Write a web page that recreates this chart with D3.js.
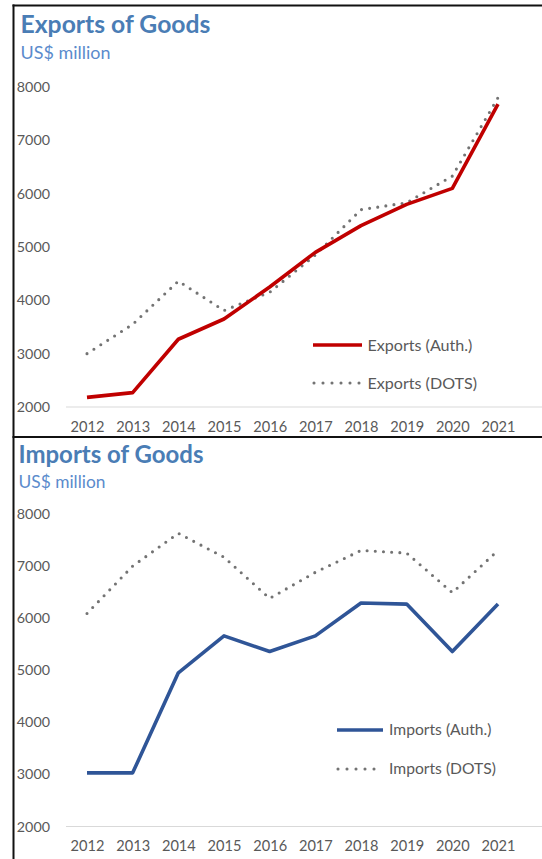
<!DOCTYPE html>
<html>
<head>
<meta charset="utf-8">
<script src="https://cdn.jsdelivr.net/npm/d3@7"></script>
<style>
  html, body { margin: 0; padding: 0; background: #fff; }
  svg { display: block; }
  text { font-family: Lato, "Open Sans", sans-serif; }
</style>
</head>
<body>
<svg id="chart" width="542" height="859"></svg>
<script>
// Years on the category axis
const years = ["2012","2013","2014","2015","2016","2017","2018","2019","2020","2021"];
const yTicks = [2000, 3000, 4000, 5000, 6000, 7000, 8000];

// Exports of goods, US$ million
const exportsAuth = [2180, 2270, 3270, 3650, 4250, 4900, 5400, 5800, 6100, 7680];
const exportsDots = [3000, 3550, 4360, 3810, 4150, 4850, 5700, 5830, 6330, 7800];

// Imports of goods, US$ million
const importsAuth = [3030, 3030, 4950, 5660, 5360, 5660, 6290, 6270, 5360, 6270];
const importsDots = [6090, 7000, 7630, 7170, 6380, 6880, 7300, 7250, 6490, 7300];

const svg = d3.select("#chart");

// Scale a text's font size so that it spans the given width
function fitWidth(sel, target) {
  sel.each(function () {
    const fs = parseFloat(this.getAttribute("font-size"));
    const w = this.getComputedTextLength();
    if (w > 0) this.setAttribute("font-size", (fs * target / w).toFixed(2));
  });
}

function drawPanel(p) {
  const g = svg.append("g");

  const x = d3.scalePoint().domain(years).range([87, 498]);
  const y = d3.scaleLinear().domain([2000, 8000]).range([p.yBottom, p.yTop]);

  // Title and unit
  const title = g.append("text")
    .attr("x", p.titleX).attr("y", p.titleY)
    .attr("font-size", 24).attr("font-weight", 700)
    .attr("fill", "#4a7db5")
    .text(p.title);
  fitWidth(title, p.titleW);

  const unit = g.append("text")
    .attr("x", p.titleX).attr("y", p.unitY)
    .attr("font-size", 16)
    .attr("fill", "#5b8bcc")
    .text("US$ million");
  fitWidth(unit, p.unitW);

  // Baseline at the bottom of the value range
  g.append("line")
    .attr("x1", 66).attr("x2", 542)
    .attr("y1", y(2000)).attr("y2", y(2000))
    .attr("stroke", "#d9d9d9").attr("stroke-width", 1.2);

  // Value axis
  const yAxis = g.append("g")
    .attr("transform", "translate(50,0)")
    .call(d3.axisLeft(y).tickValues(yTicks).tickSize(0).tickPadding(0).tickFormat(d3.format("d")));
  yAxis.select(".domain").remove();
  yAxis.selectAll("text")
    .attr("font-family", "Lato, sans-serif")
    .attr("font-size", 14.3).attr("fill", "#595959");

  // Category axis
  const xAxis = g.append("g")
    .attr("transform", `translate(0,${y(2000)})`)
    .call(d3.axisBottom(x).tickSize(0).tickPadding(p.xPad));
  xAxis.select(".domain").remove();
  xAxis.selectAll("text")
    .attr("font-family", "Lato, sans-serif")
    .attr("font-size", 14.6).attr("fill", "#595959");

  const line = d3.line().x((d, i) => x(years[i])).y(d => y(d));

  // Dotted comparison series
  g.append("path")
    .datum(p.dots)
    .attr("d", line)
    .attr("fill", "none")
    .attr("stroke", "#737373")
    .attr("stroke-width", 3.1)
    .attr("stroke-linecap", "round")
    .attr("stroke-dasharray", "0 8.2");

  // Solid main series
  g.append("path")
    .datum(p.auth)
    .attr("d", line)
    .attr("fill", "none")
    .attr("stroke", p.color)
    .attr("stroke-width", 3.6)
    .attr("stroke-linejoin", "round");

  // Legend
  const lg = g.append("g");
  lg.append("line")
    .attr("x1", p.legX1).attr("x2", p.legX2)
    .attr("y1", p.legY1).attr("y2", p.legY1)
    .attr("stroke", p.color).attr("stroke-width", 3.6);
  lg.append("line")
    .attr("x1", p.legX1 + 1).attr("x2", p.legX2)
    .attr("y1", p.legY2).attr("y2", p.legY2)
    .attr("stroke", "#737373").attr("stroke-width", 3.1)
    .attr("stroke-linecap", "round").attr("stroke-dasharray", "0 9");
  const t1 = lg.append("text")
    .attr("x", p.legTextX).attr("y", p.legY1).attr("dy", "0.35em")
    .attr("font-size", 15).attr("fill", "#595959")
    .text(p.names[0]);
  fitWidth(t1, p.legTextW);
  const t2 = lg.append("text")
    .attr("x", p.legTextX).attr("y", p.legY2).attr("dy", "0.35em")
    .attr("font-size", t1.attr("font-size")).attr("fill", "#595959")
    .text(p.names[1]);
}

drawPanel({
  title: "Exports of Goods", titleX: 20.5, titleY: 33, titleW: 190,
  unitY: 59, unitW: 90,
  yTop: 87, yBottom: 407, xPad: 15,
  auth: exportsAuth, dots: exportsDots, color: "#c00000",
  names: ["Exports (Auth.)", "Exports (DOTS)"],
  legX1: 313, legX2: 362, legY1: 345, legY2: 383,
  legTextX: 367.5, legTextW: 105
});

drawPanel({
  title: "Imports of Goods", titleX: 18.5, titleY: 463, titleW: 185,
  unitY: 488, unitW: 87,
  yTop: 514, yBottom: 826.5, xPad: 14,
  auth: importsAuth, dots: importsDots, color: "#2f5597",
  names: ["Imports (Auth.)", "Imports (DOTS)"],
  legX1: 337, legX2: 383, legY1: 730, legY2: 769,
  legTextX: 389, legTextW: 102.5
});

// Panel frames
const frame = svg.append("g").attr("stroke", "#111").attr("stroke-width", 2);
frame.append("line").attr("x1", 12.5).attr("x2", 542).attr("y1", 5.5).attr("y2", 5.5);
frame.append("line").attr("x1", 13.5).attr("x2", 13.5).attr("y1", 4.5).attr("y2", 859);
frame.append("line").attr("x1", 12.5).attr("x2", 542).attr("y1", 437).attr("y2", 437);
</script>
</body>
</html>
